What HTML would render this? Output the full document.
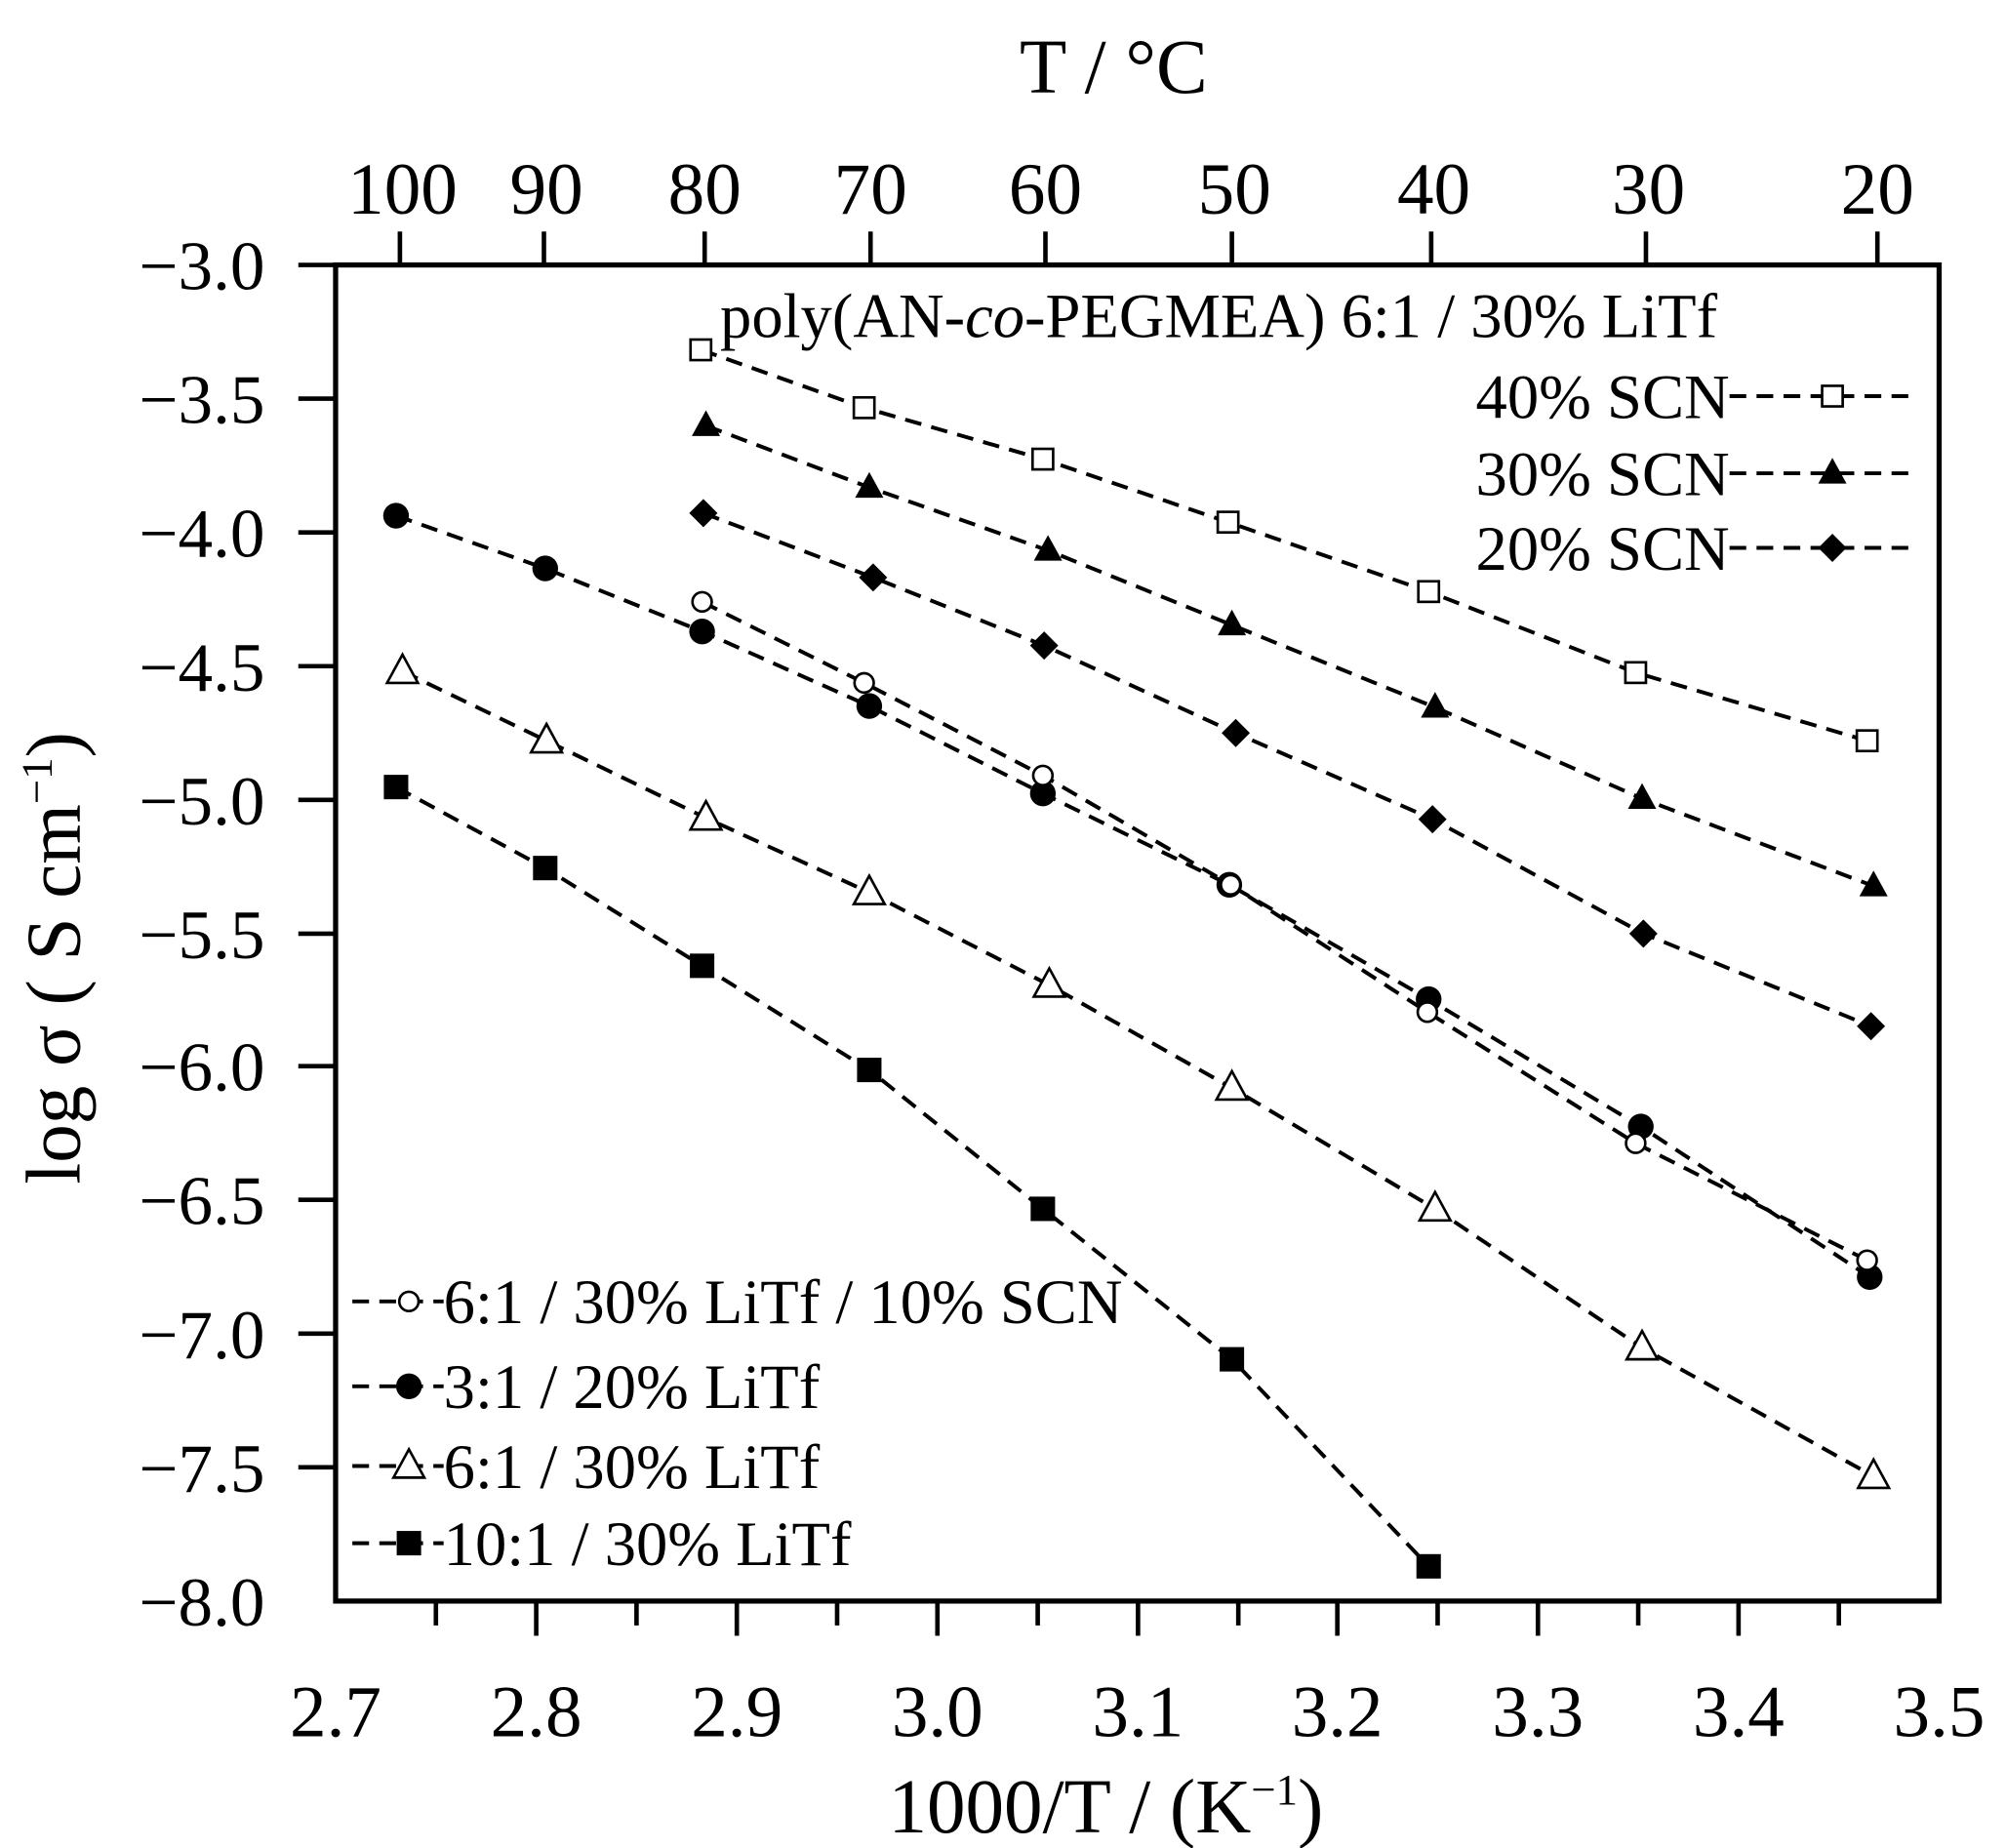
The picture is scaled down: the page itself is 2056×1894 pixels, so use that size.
<!DOCTYPE html>
<html><head><meta charset="utf-8"><style>html,body{margin:0;padding:0;background:#fff}svg{display:block}</style></head>
<body>
<svg width="2056" height="1894" viewBox="0 0 1560 1437" xmlns="http://www.w3.org/2000/svg" font-family="Liberation Serif, serif" fill="#000">
<defs>
<g id="osq"><rect x="-8" y="-8" width="16" height="16" fill="#fff" stroke="#000" stroke-width="2"/></g>
<g id="ftri"><polygon points="0,-12 11,8 -11,8" fill="#000"/></g>
<g id="dia"><polygon points="0,-11 11,0 0,11 -11,0" fill="#000"/></g>
<g id="ocir"><circle r="7.5" fill="#fff" stroke="#000" stroke-width="2"/></g>
<g id="fcir"><circle r="10" fill="#000"/></g>
<g id="otri"><polygon points="0,-13 12,9 -12,9" fill="#fff" stroke="#000" stroke-width="2"/></g>
<g id="fsq"><rect x="-9.5" y="-9.5" width="19" height="19" fill="#000"/></g>
</defs>
<g fill="none" stroke="#000" stroke-width="3" stroke-dasharray="13,8">
<polyline points="545,272 672,317 811,357 955,406 1111,460 1272,523 1452,576"/>
<polyline points="549,331 676,379 815,428 958,486 1116,550 1277,621 1457,689"/>
<polyline points="547,399 679,449 812,502 961,570 1114,637 1278,726 1455,798"/>
<polyline points="546,468 672,531 811,603 957,688 1110,787 1272,889 1452,980"/>
<polyline points="308,401 424,442 546,491 676,549 811,617 956,688 1111,777 1276,876 1454,993"/>
<polyline points="313,522 425,576 549,636 676,694 816,766 958,846 1116,940 1277,1048 1457,1148"/>
<polyline points="308,612 424,675 546,751 676,832 811,940 958,1057 1111,1218"/>
<line x1="1345" y1="308" x2="1490" y2="308"/>
<line x1="1345" y1="368" x2="1490" y2="368"/>
<line x1="1345" y1="426" x2="1490" y2="426"/>
<line x1="274" y1="1012" x2="345" y2="1012"/>
<line x1="274" y1="1078" x2="345" y2="1078"/>
<line x1="274" y1="1140" x2="345" y2="1140"/>
<line x1="274" y1="1200" x2="345" y2="1200"/>
</g>
<g>
<use href="#osq" x="545" y="272"/><use href="#osq" x="672" y="317"/><use href="#osq" x="811" y="357"/><use href="#osq" x="955" y="406"/><use href="#osq" x="1111" y="460"/><use href="#osq" x="1272" y="523"/><use href="#osq" x="1452" y="576"/>
<use href="#ftri" x="549" y="331"/><use href="#ftri" x="676" y="379"/><use href="#ftri" x="815" y="428"/><use href="#ftri" x="958" y="486"/><use href="#ftri" x="1116" y="550"/><use href="#ftri" x="1277" y="621"/><use href="#ftri" x="1457" y="689"/>
<use href="#dia" x="547" y="399"/><use href="#dia" x="679" y="449"/><use href="#dia" x="812" y="502"/><use href="#dia" x="961" y="570"/><use href="#dia" x="1114" y="637"/><use href="#dia" x="1278" y="726"/><use href="#dia" x="1455" y="798"/>
<use href="#fcir" x="308" y="401"/><use href="#fcir" x="424" y="442"/><use href="#fcir" x="546" y="491"/><use href="#fcir" x="676" y="549"/><use href="#fcir" x="811" y="617"/><use href="#fcir" x="956" y="688"/><use href="#fcir" x="1111" y="777"/><use href="#fcir" x="1276" y="876"/><use href="#fcir" x="1454" y="993"/>
<use href="#ocir" x="546" y="468"/><use href="#ocir" x="672" y="531"/><use href="#ocir" x="811" y="603"/><use href="#ocir" x="957" y="688"/><use href="#ocir" x="1110" y="787"/><use href="#ocir" x="1272" y="889"/><use href="#ocir" x="1452" y="980"/>
<use href="#otri" x="313" y="522"/><use href="#otri" x="425" y="576"/><use href="#otri" x="549" y="636"/><use href="#otri" x="676" y="694"/><use href="#otri" x="816" y="766"/><use href="#otri" x="958" y="846"/><use href="#otri" x="1116" y="940"/><use href="#otri" x="1277" y="1048"/><use href="#otri" x="1457" y="1148"/>
<use href="#fsq" x="308" y="612"/><use href="#fsq" x="424" y="675"/><use href="#fsq" x="546" y="751"/><use href="#fsq" x="676" y="832"/><use href="#fsq" x="811" y="940"/><use href="#fsq" x="958" y="1057"/><use href="#fsq" x="1111" y="1218"/>
<use href="#osq" x="1425" y="308"/><use href="#ftri" x="1425" y="368"/><use href="#dia" x="1425" y="426"/>
<use href="#ocir" x="318" y="1012"/><use href="#fcir" x="318" y="1078"/><use href="#otri" x="318" y="1140"/><use href="#fsq" x="318" y="1200"/>
</g>
<rect x="261" y="206" width="1247" height="1039" fill="none" stroke="#000" stroke-width="4"/>
<g stroke="#000" stroke-width="3.5">
<line x1="232" y1="206" x2="261" y2="206"/><line x1="232" y1="310" x2="261" y2="310"/><line x1="232" y1="414" x2="261" y2="414"/><line x1="232" y1="518" x2="261" y2="518"/><line x1="232" y1="622" x2="261" y2="622"/><line x1="232" y1="726" x2="261" y2="726"/><line x1="232" y1="829" x2="261" y2="829"/><line x1="232" y1="933" x2="261" y2="933"/><line x1="232" y1="1037" x2="261" y2="1037"/><line x1="232" y1="1141" x2="261" y2="1141"/>
<line x1="417" y1="1245" x2="417" y2="1272"/><line x1="573" y1="1245" x2="573" y2="1272"/><line x1="729" y1="1245" x2="729" y2="1272"/><line x1="885" y1="1245" x2="885" y2="1272"/><line x1="1040" y1="1245" x2="1040" y2="1272"/><line x1="1196" y1="1245" x2="1196" y2="1272"/><line x1="1352" y1="1245" x2="1352" y2="1272"/>
<line x1="339" y1="1245" x2="339" y2="1264"/><line x1="495" y1="1245" x2="495" y2="1264"/><line x1="651" y1="1245" x2="651" y2="1264"/><line x1="807" y1="1245" x2="807" y2="1264"/><line x1="963" y1="1245" x2="963" y2="1264"/><line x1="1118" y1="1245" x2="1118" y2="1264"/><line x1="1274" y1="1245" x2="1274" y2="1264"/><line x1="1430" y1="1245" x2="1430" y2="1264"/>
<line x1="311" y1="206" x2="311" y2="180"/><line x1="423" y1="206" x2="423" y2="180"/><line x1="548" y1="206" x2="548" y2="180"/><line x1="677" y1="206" x2="677" y2="180"/><line x1="813" y1="206" x2="813" y2="180"/><line x1="958" y1="206" x2="958" y2="180"/><line x1="1113" y1="206" x2="1113" y2="180"/><line x1="1280" y1="206" x2="1280" y2="180"/><line x1="1460" y1="206" x2="1460" y2="180"/>
</g>
<g font-size="54" text-anchor="end">
<text x="206" y="225">−3.0</text><text x="206" y="329">−3.5</text><text x="206" y="433">−4.0</text><text x="206" y="537">−4.5</text><text x="206" y="641">−5.0</text><text x="206" y="745">−5.5</text><text x="206" y="848">−6.0</text><text x="206" y="952">−6.5</text><text x="206" y="1056">−7.0</text><text x="206" y="1160">−7.5</text><text x="206" y="1264">−8.0</text>
</g>
<g font-size="57" text-anchor="middle">
<text x="261" y="1350">2.7</text><text x="417" y="1350">2.8</text><text x="573" y="1350">2.9</text><text x="729" y="1350">3.0</text><text x="885" y="1350">3.1</text><text x="1040" y="1350">3.2</text><text x="1196" y="1350">3.3</text><text x="1352" y="1350">3.4</text><text x="1508" y="1350">3.5</text>
<text x="313" y="166">100</text><text x="425" y="166">90</text><text x="548" y="166">80</text><text x="677" y="166">70</text><text x="813" y="166">60</text><text x="960" y="166">50</text><text x="1115" y="166">40</text><text x="1282" y="166">30</text><text x="1460" y="166">20</text>
<text x="866" y="72" font-size="60">T / °C</text>
<text x="860" y="1425" font-size="60">1000/T / (K<tspan font-size="34" dy="-22">−1</tspan><tspan dy="22">)</tspan></text>
<text transform="translate(62,745) rotate(-90)" font-size="60">log σ ( S cm<tspan font-size="34" dy="-22">−1</tspan><tspan dy="22">)</tspan></text>
</g>
<g font-size="49">
<text x="560" y="262">poly(AN-<tspan font-style="italic">co</tspan>-PEGMEA) 6:1 / 30% LiTf</text>
<text x="1345" y="325" text-anchor="end">40% SCN</text>
<text x="1345" y="385" text-anchor="end">30% SCN</text>
<text x="1345" y="443" text-anchor="end">20% SCN</text>
<text x="345" y="1029">6:1 / 30% LiTf / 10% SCN</text>
<text x="345" y="1095">3:1 / 20% LiTf</text>
<text x="345" y="1157">6:1 / 30% LiTf</text>
<text x="345" y="1217">10:1 / 30% LiTf</text>
</g>
</svg>
</body></html>
